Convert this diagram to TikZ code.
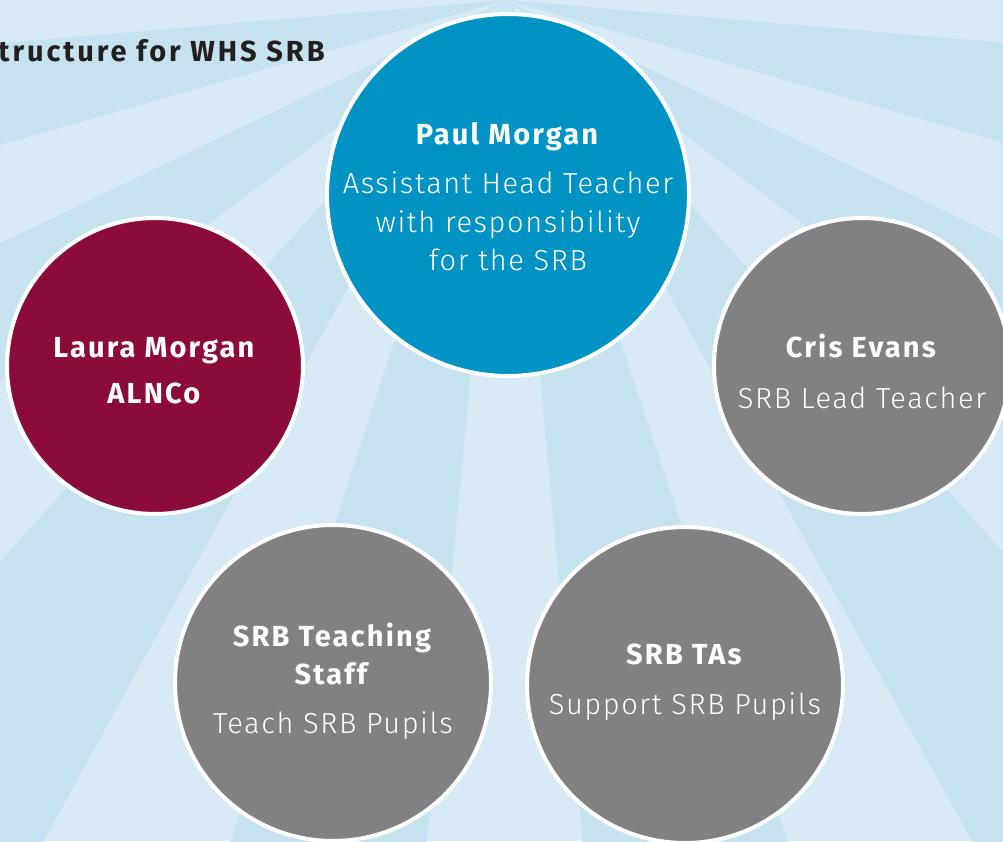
\documentclass[tikz,border=0pt]{standalone}
\usepackage{fontspec}
\setmainfont{Fira Sans}[UprightFont=* Light, BoldFont=* Bold,
  UprightFeatures={LetterSpace=5.5}, BoldFeatures={LetterSpace=7.5}]
\newfontfamily\titlefont{Fira Sans}[UprightFont=* Bold, LetterSpace=10]
\usetikzlibrary{positioning}
\definecolor{skyLight}{RGB}{214,233,244}
\definecolor{skyDark}{RGB}{198,226,238}
\definecolor{headBlue}{RGB}{0,147,196}
\definecolor{alnMaroon}{RGB}{139,12,58}
\definecolor{staffGrey}{RGB}{129,128,131}
\definecolor{titleInk}{RGB}{35,31,32}
\tikzset{
  ray/.style={fill=skyDark},
  person/.style={circle, draw=white, line width=0.08cm, inner sep=0pt},
  who/.style={text=white, align=center, inner sep=0pt,
              font=\fontsize{16.5}{22}\selectfont},
  heading/.style={text=titleInk, inner sep=0pt, anchor=base east,
                  font=\fontsize{16.5}{19}\titlefont},
}

\begin{document}
\begin{tikzpicture}[x=0.02cm, y=-0.02cm]
  \useasboundingbox (0,0) rectangle (1003,841);
  \clip (0,0) rectangle (1003,841);
  % sunburst background
  \fill[skyLight] (0,0) rectangle (1003,841);
  \coordinate (sun) at (506,0);
  \foreach \a/\b in {4.9/16, 25.7/37, 48/61, 71.5/84.8, 95.4/108.1, 118.8/132, 143/154.3, 164/175.1}
    \fill[ray, shift={(sun)}] (0,0) -- (\a:1500) -- (\b:1500) -- cycle;

  \node[heading] (title) at (325,62) {tructure for WHS SRB};

  % people
  \node[person, fill=headBlue, minimum size=7.24cm] (paul) at (508,195) {};
  \node[person, fill=alnMaroon, minimum size=5.92cm] (laura) at (155,366) {};
  \node[person, fill=staffGrey, minimum size=5.92cm] (cris) at (862,366) {};
  \node[person, fill=staffGrey, minimum size=6.32cm] (staff) at (333,683) {};
  \node[person, fill=staffGrey, minimum size=6.32cm] (tas) at (685,685) {};

  \node[who] (paulTxt) at ([yshift=-1pt]paul) {\textbf{Paul Morgan}\\[6pt] Assistant Head Teacher\\ with responsibility\\ for the SRB};
  \node[who] (lauraTxt) at ([yshift=-2.5pt]laura) {\textbf{Laura Morgan}\\[4pt] \textbf{ALNCo}};
  \node[who] (crisTxt) at ([yshift=-3pt]cris) {\textbf{Cris Evans}\\[6.8pt] SRB Lead Teacher};
  \node[who] (staffTxt) at ([yshift=1pt]staff) {\textbf{SRB Teaching}\\ \textbf{Staff}\\[6pt] Teach SRB Pupils};
  \node[who] (tasTxt) at ([yshift=1.5pt]tas) {\textbf{SRB TAs}\\[6.3pt] Support SRB Pupils};
\end{tikzpicture}
\end{document}
